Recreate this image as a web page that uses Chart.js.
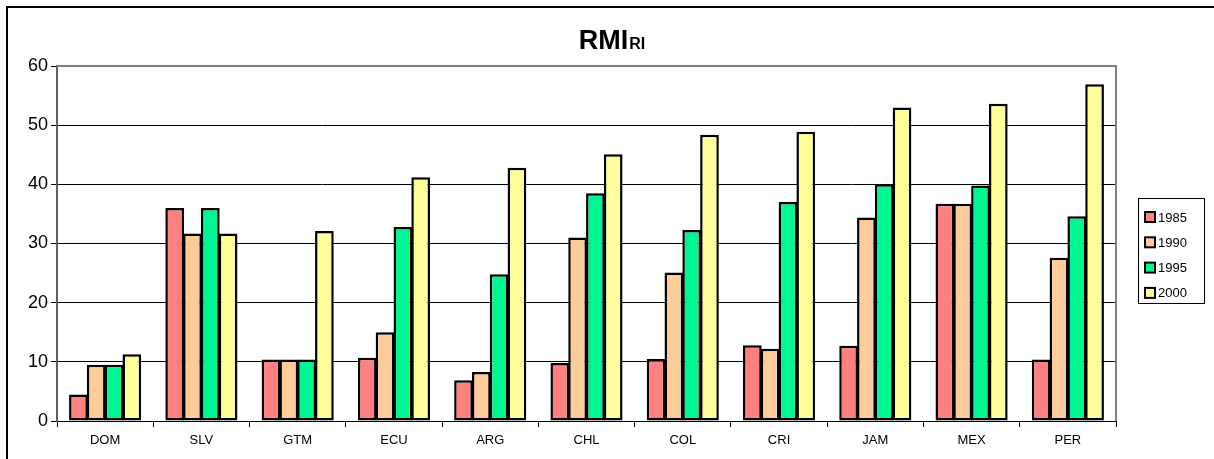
<!DOCTYPE html>
<html>
<head>
<meta charset="utf-8">
<script src="https://cdn.jsdelivr.net/npm/chart.js@4.4.0/dist/chart.umd.min.js"></script>
<style>
  html, body { margin: 0; padding: 0; background: #fff; }
  #wrap { width: 1214px; height: 459px; position: relative; }
</style>
</head>
<body>
<div id="wrap"><canvas id="rmiChart"></canvas></div>
<script>
// data
const countries = ['DOM', 'SLV', 'GTM', 'ECU', 'ARG', 'CHL', 'COL', 'CRI', 'JAM', 'MEX', 'PER'];
const years = ['1985', '1990', '1995', '2000'];
const y1985 = [4.5, 36.0, 10.4, 10.7, 6.9, 9.8, 10.5, 12.8, 12.7, 36.7, 10.4];
const y1990 = [9.5, 31.7, 10.4, 15.0, 8.3, 31.0, 25.1, 12.2, 34.4, 36.7, 27.6];
const y1995 = [9.5, 36.0, 10.4, 32.8, 24.8, 38.5, 32.3, 37.0, 40.0, 39.8, 34.6];
const y2000 = [11.3, 31.7, 32.1, 41.2, 42.8, 45.1, 48.4, 48.9, 53.0, 53.6, 56.9];
const yTicks = [0, 10, 20, 30, 40, 50, 60];

const barColors = ['#FF8080', '#FFCC99', '#00F593', '#FFFF99'];

// frame, title with subscript, plot border and legend box
const decorations = {
  id: 'decorations',
  afterDraw(chart) {
    const ctx = chart.ctx;
    const area = chart.chartArea;
    ctx.save();

    // outer frame (left and top visible)
    ctx.strokeStyle = '#000';
    ctx.lineWidth = 2;
    ctx.beginPath();
    ctx.moveTo(7, 459);
    ctx.lineTo(7, 7);
    ctx.lineTo(1214, 7);
    ctx.stroke();

    // gray border top and right of plot
    ctx.strokeStyle = '#808080';
    ctx.lineWidth = 2;
    ctx.beginPath();
    ctx.moveTo(area.left, area.top);
    ctx.lineTo(area.right, area.top);
    ctx.lineTo(area.right, area.bottom);
    ctx.stroke();

    // title RMI with subscript RI
    ctx.fillStyle = '#000';
    ctx.textBaseline = 'alphabetic';
    const bigFont = 'bold 27px Arial, "Liberation Sans", sans-serif';
    const subFont = 'bold 16px Arial, "Liberation Sans", sans-serif';
    ctx.font = bigFont;
    const wMain = ctx.measureText('RMI').width;
    ctx.font = subFont;
    const wSub = ctx.measureText('RI').width;
    const startX = 612 - (wMain + wSub + 1) / 2;
    ctx.font = bigFont;
    ctx.fillText('RMI', startX, 49);
    ctx.font = subFont;
    ctx.fillText('RI', startX + wMain + 1, 49);

    // legend
    ctx.strokeStyle = '#000';
    ctx.lineWidth = 1;
    ctx.strokeRect(1138.5, 198.5, 66, 105);
    ctx.font = '13px Arial, "Liberation Sans", sans-serif';
    ctx.textBaseline = 'middle';
    chart.data.datasets.forEach((ds, i) => {
      const cy = 217 + i * 25.3;
      ctx.fillStyle = ds.backgroundColor;
      ctx.fillRect(1145, cy - 5, 10, 10);
      ctx.lineWidth = 2;
      ctx.strokeRect(1145, cy - 5, 10, 10);
      ctx.fillStyle = '#000';
      ctx.fillText(ds.label, 1158, cy + 1);
    });
    ctx.restore();
  }
};

const rmiCtx = document.getElementById('rmiChart').getContext('2d');
new Chart(rmiCtx, {
  type: 'bar',
  data: {
    labels: countries,
    datasets: [y1985, y1990, y1995, y2000].map((vals, i) => ({
      label: years[i],
      data: vals,
      backgroundColor: barColors[i],
      borderColor: '#000',
      borderWidth: 2.5,
      borderSkipped: false,
      categoryPercentage: 0.74,
      barPercentage: 1.05
    }))
  },
  options: {
    responsive: true,
    maintainAspectRatio: false,
    animation: false,
    layout: {
      padding: { left: 0, top: 66, right: 98, bottom: 0 }
    },
    scales: {
      x: {
        afterFit(scale) { scale.height = 38; },
        grid: {
          offset: true,
          drawOnChartArea: false,
          drawTicks: true,
          tickLength: 6,
          tickColor: '#000',
          tickWidth: 1
        },
        border: { color: '#000', width: 1 },
        ticks: {
          color: '#000',
          padding: 6,
          font: { size: 13, family: 'Arial, "Liberation Sans", sans-serif' }
        }
      },
      y: {
        min: 0,
        max: 60,
        afterFit(scale) { scale.width = 57; },
        afterBuildTicks(scale) { scale.ticks = yTicks.map(v => ({ value: v })); },
        grid: {
          color: '#000',
          lineWidth: 1,
          tickLength: 6,
          tickColor: '#000'
        },
        border: { color: '#606060', width: 2 },
        ticks: {
          color: '#000',
          padding: 3,
          font: { size: 18, family: 'Arial, "Liberation Sans", sans-serif' }
        }
      }
    },
    plugins: {
      legend: { display: false },
      title: { display: false },
      tooltip: { enabled: false }
    }
  },
  plugins: [decorations]
});
</script>
</body>
</html>
